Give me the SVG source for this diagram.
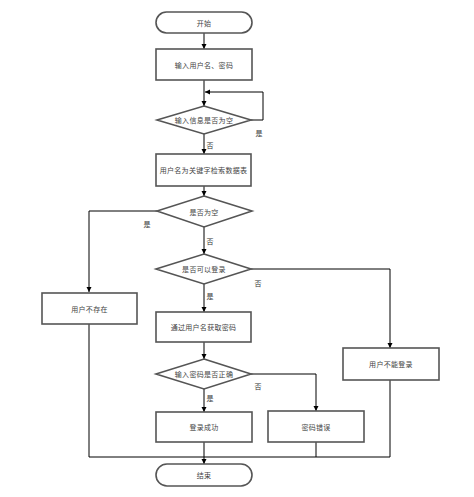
<svg xmlns="http://www.w3.org/2000/svg" width="474" height="497" viewBox="0 0 474 497">
<style>
.n{fill:#fff;stroke:#555;stroke-width:1.6}
.t{font-family:"Noto Sans CJK SC","Liberation Sans",sans-serif;font-size:7px;fill:#444;text-anchor:middle;dominant-baseline:central;letter-spacing:0.3px}
.c{fill:none;stroke:#000;stroke-width:1}
.l{font-family:"Noto Sans CJK SC","Liberation Sans",sans-serif;font-size:7px;fill:#333;text-anchor:middle;dominant-baseline:central}
</style>
<defs>
<marker id="a" markerWidth="6" markerHeight="6" refX="5" refY="3" orient="auto" markerUnits="userSpaceOnUse">
<path d="M0,0.5 L5,3 L0,5.5 Z" fill="#000"/>
</marker>
</defs>
<rect width="474" height="497" fill="#fff"/>
<g id="connectors">
<path class="c" d="M204,33 V49" marker-end="url(#a)"/>
<path class="c" d="M204,80 V106" marker-end="url(#a)"/>
<path class="c" d="M251,120 H263 V92 H205" marker-end="url(#a)"/>
<path class="c" d="M204,134 V154" marker-end="url(#a)"/>
<path class="c" d="M204,186 V196" marker-end="url(#a)"/>
<path class="c" d="M157,211 H89 V292" marker-end="url(#a)"/>
<path class="c" d="M204,227 V254" marker-end="url(#a)"/>
<path class="c" d="M251,269 H390 V348" marker-end="url(#a)"/>
<path class="c" d="M204,284 V312" marker-end="url(#a)"/>
<path class="c" d="M204,342 V359" marker-end="url(#a)"/>
<path class="c" d="M251,374 H316 V411" marker-end="url(#a)"/>
<path class="c" d="M204,389 V412" marker-end="url(#a)"/>
<path class="c" d="M204,442 V464" marker-end="url(#a)"/>
<path class="c" d="M89,324 V457 H390 V380"/>
<path class="c" d="M316,442 V457"/>
<text class="l" x="259" y="133">是</text>
<text class="l" x="210" y="145">否</text>
<text class="l" x="147" y="224">是</text>
<text class="l" x="210" y="241">否</text>
<text class="l" x="258" y="283">否</text>
<text class="l" x="210" y="296">是</text>
<text class="l" x="258" y="386">否</text>
<text class="l" x="210" y="398">是</text>
</g>
<g id="start"><rect class="n" x="156" y="12" width="96" height="21" rx="10.5"/><text class="t" x="204" y="22.5">开始</text></g>
<g id="input"><rect class="n" x="156" y="49" width="96" height="31"/><text class="t" x="204" y="64.5">输入用户名、密码</text></g>
<g id="check-empty-input"><polygon class="n" points="204,106 251,120 204,134 157,120"/><text class="t" x="204" y="120">输入信息是否为空</text></g>
<g id="search"><rect class="n" x="156" y="154" width="95" height="32"/><text class="t" x="203.5" y="170">用户名为关键字检索数据表</text></g>
<g id="check-empty"><polygon class="n" points="204,196 252,211 204,227 157,211"/><text class="t" x="204" y="211.5">是否为空</text></g>
<g id="not-exist"><rect class="n" x="42" y="293" width="95" height="31"/><text class="t" x="89.5" y="308.5">用户不存在</text></g>
<g id="can-login"><polygon class="n" points="204,254 251,269 204,284 156,269"/><text class="t" x="204" y="269">是否可以登录</text></g>
<g id="cannot-login"><rect class="n" x="343" y="348" width="96" height="32"/><text class="t" x="391" y="364">用户不能登录</text></g>
<g id="get-pwd"><rect class="n" x="156" y="312" width="95" height="30"/><text class="t" x="203.5" y="327">通过用户名获取密码</text></g>
<g id="check-pwd"><polygon class="n" points="204,359 251,374 204,389 156,374"/><text class="t" x="204" y="374">输入密码是否正确</text></g>
<g id="success"><rect class="n" x="156" y="412" width="96" height="30"/><text class="t" x="204" y="427">登录成功</text></g>
<g id="pwd-error"><rect class="n" x="268" y="411" width="96" height="31"/><text class="t" x="316" y="426.5">密码错误</text></g>
<g id="end"><rect class="n" x="156" y="464" width="96" height="22" rx="11"/><text class="t" x="204" y="475">结束</text></g>
</svg>
